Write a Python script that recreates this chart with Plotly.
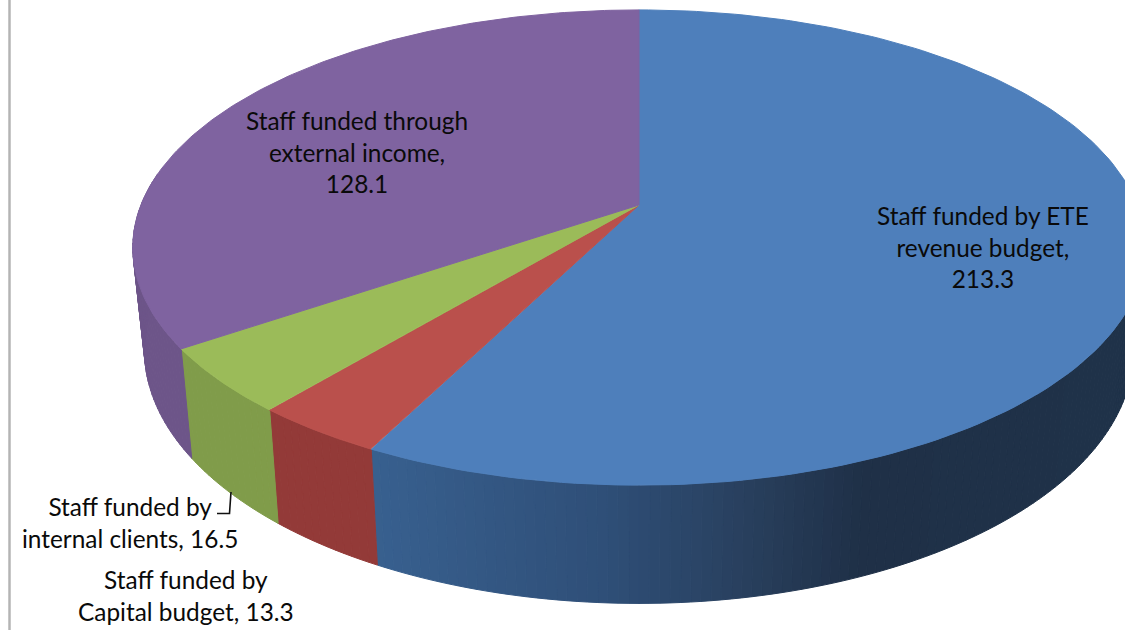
import numpy as np
import plotly.graph_objects as go

# Funded staff numbers by source
labels = ["Staff funded by ETE revenue budget", "Staff funded by Capital budget",
          "Staff funded by internal clients", "Staff funded through external income"]
values = [213.3, 13.3, 16.5, 128.1]
top_colors = ["#4e7fbb", "#ba504c", "#9bbb59", "#7f63a0"]
side_colors = [None, "#933a38", "#809c4a", "#6d5589"]

# Shading of the blue wall along the page's horizontal direction
shade_x = [372, 600, 750, 860, 1125]
shade_r = [56, 47, 40, 31, 31]
shade_g = [96, 79, 63, 48, 50]
shade_b = [143, 120, 93, 71, 73]

# Perspective projection of the pie's disc on the page
CX, TOP_CY, SIDE_CY = 639.0, 205.0, 305.0
A, B_TOP, B_SIDE, K, SIDE_SCALE = 498.0, 230.0, 245.0, 0.179, 0.977


def rim(theta_deg, lower=False):
    t = np.radians(theta_deg)
    u, v = np.sin(t), np.cos(t)
    w = 1 + K * v
    if lower:
        return CX + SIDE_SCALE * A * u / w, SIDE_CY - B_SIDE * v / w
    return CX + A * u / w, TOP_CY - B_TOP * v / w


fig = go.Figure()


def polygon(x, y, color):
    fig.add_trace(go.Scatter(x=list(x), y=list(y), mode="lines", fill="toself",
                             fillcolor=color, line=dict(color=color, width=1),
                             hoverinfo="skip", showlegend=False))


edges = np.concatenate([[0], np.cumsum(values)]) / sum(values) * 360

# Outer wall, drawn as thin strips so the blue slice can shade towards the right
STEP = 1.0
for i, color in enumerate(side_colors):
    start = max(edges[i], 95)
    stop = min(edges[i + 1], 278)
    if stop <= start:
        continue
    cuts = np.append(np.arange(start, stop, STEP), stop)
    for a, b in zip(cuts[:-1], cuts[1:]):
        xa, ya = rim(np.array([a, b]))
        xb, yb = rim(np.array([b, a]), lower=True)
        if color is None:
            mid = (xa.mean() + xb.mean()) / 2
            fill = "rgb(%d,%d,%d)" % (round(np.interp(mid, shade_x, shade_r)),
                                      round(np.interp(mid, shade_x, shade_g)),
                                      round(np.interp(mid, shade_x, shade_b)))
        else:
            fill = color
        polygon(np.r_[xa, xb, xa[0]], np.r_[ya, yb, ya[0]], fill)

# Top face slices
for i, color in enumerate(top_colors):
    th = np.linspace(edges[i], edges[i + 1], 160)
    x, y = rim(th)
    polygon(np.r_[CX, x, CX], np.r_[TOP_CY, y, TOP_CY], color)

# Vertical rule at the left of the plot area
fig.add_trace(go.Scatter(x=[9.5, 9.5], y=[0, 630], mode="lines",
                         line=dict(color="#b4b4b4", width=2.5),
                         hoverinfo="skip", showlegend=False))

# Leader line for the internal clients label
fig.add_trace(go.Scatter(x=[231, 229.5, 217], y=[492, 513.5, 513.5], mode="lines",
                         line=dict(color="#111111", width=1.6),
                         hoverinfo="skip", showlegend=False))

label_text = [
    "Staff funded by ETE<br>revenue budget,<br>%s" % values[0],
    "Staff funded by<br>Capital budget, %s" % values[1],
    "Staff funded by<br>internal clients, %s" % values[2],
    "Staff funded through<br>external income,<br>%s" % values[3],
]
label_x = [983, 186, 130, 357]
label_y = [247, 595, 522, 152]
for text, x, y in zip(label_text, label_x, label_y):
    fig.add_annotation(x=x, y=y, text=text, showarrow=False, align="center",
                       xanchor="center", yanchor="middle",
                       font=dict(family="Lato", size=24.4, color="#0a0a0a"))

fig.update_layout(
    width=1125, height=630, margin=dict(l=0, r=0, t=0, b=0),
    paper_bgcolor="white", plot_bgcolor="white", showlegend=False,
    xaxis=dict(range=[0, 1125], visible=False, fixedrange=True),
    yaxis=dict(range=[630, 0], visible=False, fixedrange=True),
)
fig.write_html("out.html", config={"displayModeBar": False})
